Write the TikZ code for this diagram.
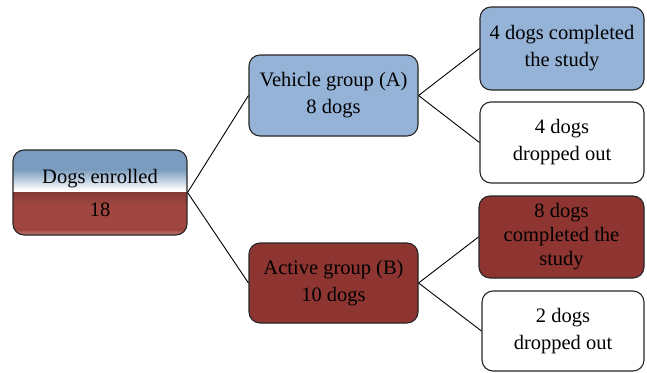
\documentclass[tikz,border=0pt]{standalone}
\usepackage{fontspec}
\setmainfont{Liberation Serif}
\definecolor{boxblue}{HTML}{95B3D7}
\definecolor{boxred}{HTML}{8E3532}
\definecolor{topblue}{HTML}{7B9CBE}
\definecolor{encred}{HTML}{A0453F}
\begin{document}
\begin{tikzpicture}[x=1pt,y=-1pt,
  box/.style={draw=black!85, line width=1.1pt, rounded corners=11pt, align=center,
    font=\fontsize{20.5}{27}\selectfont, inner sep=2pt},
  bluebox/.style={box, fill=boxblue},
  redbox/.style={box, fill=boxred},
  whitebox/.style={box, fill=white},
  link/.style={draw=black, line width=0.9pt}]
\useasboundingbox (0,0) rectangle (647,372);
% enrolled box shading
\begin{scope}
  \clip[rounded corners=11pt] (13,150) rectangle (187,235);
  \fill[topblue] (13,150) rectangle (187,170);
  \shade[top color=topblue, bottom color=white] (13,169.5) rectangle (187,190);
  \fill[white] (13,189.5) rectangle (187,193);
  \shade[top color=encred!85!black, bottom color=encred] (13,192.5) rectangle (187,205);
  \fill[encred] (13,204.5) rectangle (187,230);
  \shade[top color=encred, bottom color=encred!70!white] (13,229.5) rectangle (187,235);
\end{scope}
\node[box, minimum width=174pt, minimum height=85pt] (enr) at (100,192.5) {Dogs enrolled\\[6pt]18};
\node[bluebox, minimum width=169pt, minimum height=81pt] (veh) at (333.5,95.5) {Vehicle group (A)\\8 dogs};
\node[redbox, minimum width=169pt, minimum height=80pt] (act) at (333.5,283) {Active group (B)\\10 dogs};
\node[bluebox, minimum width=164pt, minimum height=83pt] (c4) at (562,48.5) {4 dogs completed\\the study};
\node[whitebox, minimum width=164pt, minimum height=81pt] (d4) at (562,142.5) {4 dogs\\dropped out};
\node[redbox, minimum width=165pt, minimum height=82pt, font=\fontsize{20.5}{24}\selectfont] (c8) at (561.5,237) {8 dogs\\completed the\\study};
\node[whitebox, minimum width=162pt, minimum height=80pt] (d2) at (563,331) {2 dogs\\dropped out};
\draw[link] (enr.east) -- (veh.west);
\draw[link] (enr.east) -- (act.west);
\draw[link] (veh.east) -- (c4.west);
\draw[link] (veh.east) -- (d4.west);
\draw[link] (act.east) -- (c8.west);
\draw[link] (act.east) -- (d2.west);
\end{tikzpicture}
\end{document}
